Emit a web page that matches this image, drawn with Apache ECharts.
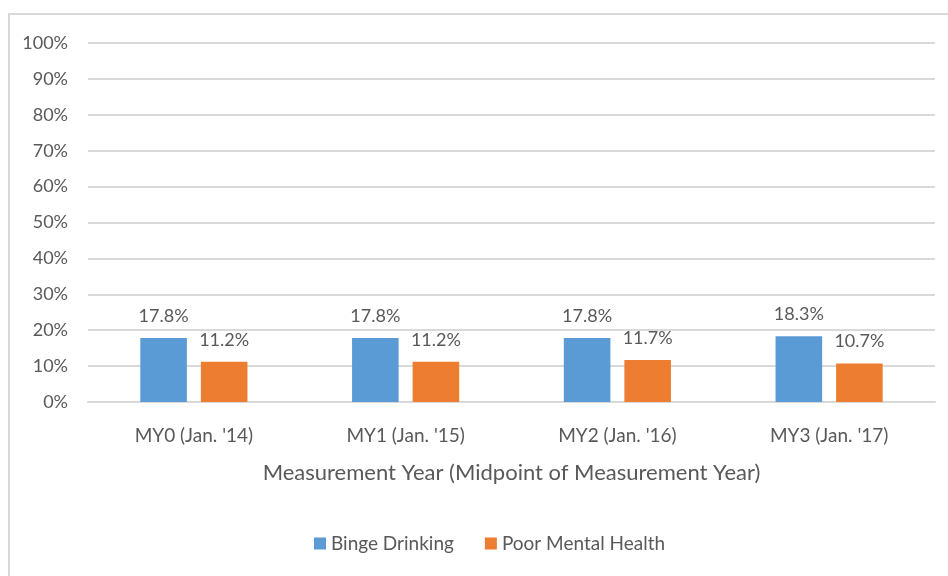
<!DOCTYPE html>
<html>
<head>
<meta charset="utf-8">
<script src="https://cdn.jsdelivr.net/npm/echarts@6/dist/echarts.min.js"></script>
<style>
    html, body { margin: 0; padding: 0; background: #fff; }
    #frame { position: absolute; left: 8px; top: 13px; width: 960px; height: 600px;
             border-left: 2px solid #d9d9d9; border-top: 2px solid #d9d9d9; }
    #container { position: absolute; left: 0; top: 0; width: 948px; height: 576px; }
</style>
</head>
<body>
<div id="frame"></div>
<div id="container"></div>
<script type="text/javascript">
    var categories = ["MY0 (Jan. '14)", "MY1 (Jan. '15)", "MY2 (Jan. '16)", "MY3 (Jan. '17)"];
    var bingeDrinking = [17.8, 17.8, 17.8, 18.3];
    var poorMentalHealth = [11.2, 11.2, 11.7, 10.7];
    var seriesNames = ['Binge Drinking', 'Poor Mental Health'];

    var font = 'Lato';
    var textColor = '#595959';

    var myChart = echarts.init(document.getElementById('container'));

    var barLabel = {
        show: true,
        position: 'top',
        distance: 13,
        color: textColor,
        fontFamily: font,
        fontSize: 18,
        formatter: function (p) { return p.value.toFixed(1) + '%'; }
    };

    var option = {
        animation: false,
        textStyle: { fontFamily: font },
        grid: { left: 88, right: 13, top: 43, bottom: 174 },
        legend: {
            data: seriesNames,
            bottom: 18,
            left: 309,
            itemWidth: 12,
            itemHeight: 12,
            itemGap: 31,
            icon: 'rect',
            textStyle: { color: textColor, fontSize: 19, fontFamily: font }
        },
        xAxis: {
            type: 'category',
            data: categories,
            name: 'Measurement Year (Midpoint of Measurement Year)',
            nameLocation: 'middle',
            nameGap: 60,
            nameTextStyle: { color: textColor, fontSize: 22, fontFamily: font },
            axisLine: { lineStyle: { color: '#d9d9d9', width: 2 } },
            axisTick: { show: false },
            axisLabel: { color: textColor, fontSize: 19, margin: 24, fontFamily: font }
        },
        yAxis: {
            type: 'value',
            min: 0,
            max: 100,
            interval: 10,
            axisLine: { show: false },
            axisTick: { show: false },
            axisLabel: { color: textColor, fontSize: 18, margin: 20, fontFamily: font,
                         formatter: '{value}%' },
            splitLine: { lineStyle: { color: '#d9d9d9', width: 2 } }
        },
        series: [{
            name: seriesNames[0],
            type: 'bar',
            data: bingeDrinking,
            barWidth: '22%',
            barGap: '30%',
            itemStyle: { color: '#5B9BD5' },
            label: barLabel
        }, {
            name: seriesNames[1],
            type: 'bar',
            data: poorMentalHealth,
            barWidth: '22%',
            itemStyle: { color: '#ED7D31' },
            label: barLabel
        }]
    };

    myChart.setOption(option);
</script>
</body>
</html>
